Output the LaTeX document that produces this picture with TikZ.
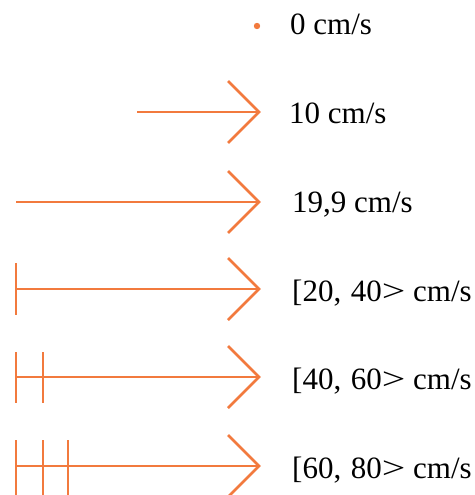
\documentclass[tikz,border=0pt]{standalone}
\usepackage{graphicx}
\usepackage{fontspec}
\setmainfont{Liberation Serif}
\definecolor{legendorange}{RGB}{242,122,62}
\newcommand{\gtsym}{\scalebox{1.35}[1]{>}}
\begin{document}
\begin{tikzpicture}[x=1pt,y=-1pt,
  vline/.style={draw=legendorange,line width=2.6pt},
  lab/.style={anchor=base west,inner sep=0pt,font=\fontsize{31}{31}\selectfont,text=black}]
\useasboundingbox (0,0) rectangle (474,495);
% row 0
\fill[legendorange] (257,26) circle (3.2);
\node[lab] (t0) at (290,35) {0 cm/s};
% arrows
\foreach \n/\y/\x in {1/112/137, 2/202/16, 3/289/16, 4/377/16, 5/466/16}{
  \coordinate (s\n) at (\x,\y);
  \coordinate (e\n) at (259,\y);
  \coordinate (u\n) at (228,\y-31);
  \coordinate (d\n) at (228,\y+31);
  \draw[vline] (s\n) -- (e\n);
  \draw[vline,line join=miter] (u\n) -- (e\n) -- (d\n);
}
\node[lab] (t1) at (289,123) {10 cm/s};
\node[lab] (t2) at (292,212) {19,9 cm/s};
\node[lab] (t3) at (292,301) {[20,\hspace{9.5pt}40\gtsym\ cm/s};
\node[lab] (t4) at (292,389) {[40,\hspace{9.5pt}60\gtsym\ cm/s};
\node[lab] (t5) at (292,478) {[60,\hspace{9.5pt}80\gtsym\ cm/s};
% bars
\draw[vline] (16,263) -- (16,315);
\draw[vline] (16,352) -- (16,403);
\draw[vline] (43,352) -- (43,403);
\draw[vline] (16,440) -- (16,497);
\draw[vline] (43,440) -- (43,497);
\draw[vline] (68,440) -- (68,497);
\end{tikzpicture}
\end{document}
